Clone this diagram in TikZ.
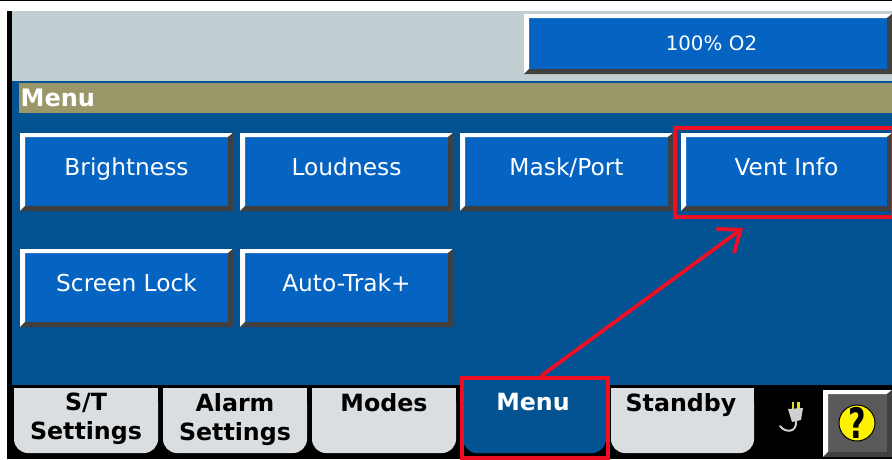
\documentclass[tikz,border=0pt]{standalone}
\usepackage{fontspec}
\setmainfont{DejaVu Sans}
\usetikzlibrary{arrows.meta,calc}
\definecolor{panelblue}{HTML}{035292}
\definecolor{btnblue}{HTML}{0563C1}
\definecolor{bevel}{HTML}{404040}
\definecolor{topgray}{HTML}{C1CFD3}
\definecolor{olive}{HTML}{9A9868}
\definecolor{tabgray}{HTML}{DADEE1}
\definecolor{redmark}{HTML}{EE0F24}
\definecolor{helpgray}{HTML}{5A5A5A}
\definecolor{plugray}{HTML}{D0D0D0}
\newcommand{\tabfill}[3]{%
  \fill[#3,rounded corners=14pt] #1 rectangle #2;
  \fill[#3] #1 rectangle ($#2+(0,-30)$);
}
\tikzset{
  x=1pt,y=-1pt,
  menubtn/.style={
    rectangle,inner sep=0pt,outer sep=0pt,fill=btnblue,text=white,
    font=\fontsize{23.3}{26}\selectfont,text height=11pt,text depth=5pt,
    path picture={
      \coordinate (nw) at (path picture bounding box.north west);
      \coordinate (se) at (path picture bounding box.south east);
      \coordinate (ne) at (path picture bounding box.north east);
      \coordinate (sw) at (path picture bounding box.south west);
      \fill[white] (nw) -- (ne) -- ($(ne)+(-5,4)$) -- ($(nw)+(5,4)$) -- ($(sw)+(5,-5)$) -- (sw) -- cycle;
      \fill[bevel] (se) -- (ne) -- ($(ne)+(-5,4)$) -- ($(se)+(-5,-5)$) -- ($(sw)+(5,-5)$) -- (sw) -- cycle;
    }},
  tabtext/.style={
    font=\fontsize{23.7}{29}\selectfont\bfseries,align=center,text=black,anchor=north,inner sep=0pt},
  marker/.style={draw=redmark,line width=4pt},
  pointer/.style={draw=redmark,line width=3.8pt,-{Straight Barb[length=19pt,width=30pt,line width=3.8pt]}}
}
\begin{document}
\begin{tikzpicture}
\useasboundingbox (0,0) rectangle (892,459);
\fill[white] (0,0) rectangle (892,459);
\fill[black] (0,0) rectangle (892,1);
\fill[black] (7,11) rectangle (892,459);
\fill[topgray] (12,11) rectangle (892,81);
\fill[panelblue] (12,81) rectangle (892,385);
\fill[olive] (19,83) rectangle (892,113);
\node[anchor=base west,inner sep=0pt,text=white,font=\fontsize{24}{26}\selectfont\bfseries] (title) at (20.5,106) {Menu};
\node[menubtn,font=\fontsize{19.8}{22}\selectfont,text height=13pt,text depth=0pt,text width=368pt,align=center,minimum width=368pt,minimum height=60pt,anchor=north west] (o2) at (524,14) {\hspace*{7pt}100\% O2};
\node[menubtn,minimum width=213pt,minimum height=78pt,anchor=north west] (bright) at (20,133) {Brightness};
\node[menubtn,minimum width=213pt,minimum height=78pt,anchor=north west] (loud) at (240,133) {Loudness};
\node[menubtn,minimum width=213pt,minimum height=78pt,anchor=north west] (mask) at (460,133) {Mask/Port};
\node[menubtn,minimum width=211pt,minimum height=78pt,anchor=north west] (vent) at (681,133) {Vent Info};
\node[menubtn,minimum width=213pt,minimum height=78pt,anchor=north west] (lock) at (20,249) {Screen Lock};
\node[menubtn,minimum width=213pt,minimum height=78pt,anchor=north west] (trak) at (240,249) {Auto-Trak+};
% tabs
\tabfill{(14,388)}{(158,453)}{tabgray}
\tabfill{(163,388)}{(307,453)}{tabgray}
\tabfill{(312,388)}{(456,453)}{tabgray}
\tabfill{(463,380)}{(606,453)}{panelblue}
\tabfill{(611,388)}{(754,453)}{tabgray}
\node[tabtext] (tabst) at (86,393) {S/T\\Settings};
\node[tabtext] (tabalarm) at (235,393) {Alarm\\Settings};
\node[tabtext] (tabmodes) at (384,393) {Modes};
\node[tabtext,text=white] (tabmenu) at (533,393) {Menu};
\node[tabtext] (tabstandby) at (681,393) {Standby};
% plug icon
\draw[plugray,line width=2pt,line cap=round] (780,426) .. controls (785,433) and (797,433) .. (796,421);
\fill[yellow!90!black] (791.5,402) -- (794,402) -- (794,409) -- (791.5,409) -- cycle;
\fill[yellow!90!black] (797,402) -- (799.5,402) -- (799.5,409) -- (797,409) -- cycle;
\fill[plugray] (788,409) -- (803,408) -- (801,420) -- (792,422) -- cycle;
% help button
\node[menubtn,fill=helpgray,minimum width=69pt,minimum height=67pt,anchor=north west] (help) at (823,390) {};
\node[circle,fill=yellow,draw=black,line width=1pt,minimum size=36pt,inner sep=0pt] (qcircle) at (857,423) {};
\node[inner sep=0pt,text=black,font=\fontsize{42}{42}\selectfont\bfseries] (qmark) at (857,423) {\scalebox{.72}[1]{?}};
% markers
\node[marker,rectangle,inner sep=0pt,outer sep=0pt,minimum width=218pt,minimum height=89pt,anchor=north west] (ventbox) at (675,128) {};
\node[marker,rectangle,inner sep=0pt,outer sep=0pt,minimum width=146pt,minimum height=80pt,anchor=north west] (menubox) at (462,378) {};
\coordinate (tip) at (743,228);
\coordinate (tail) at (541,376);
\draw[pointer] (tail) -- (tip);
\end{tikzpicture}
\end{document}
